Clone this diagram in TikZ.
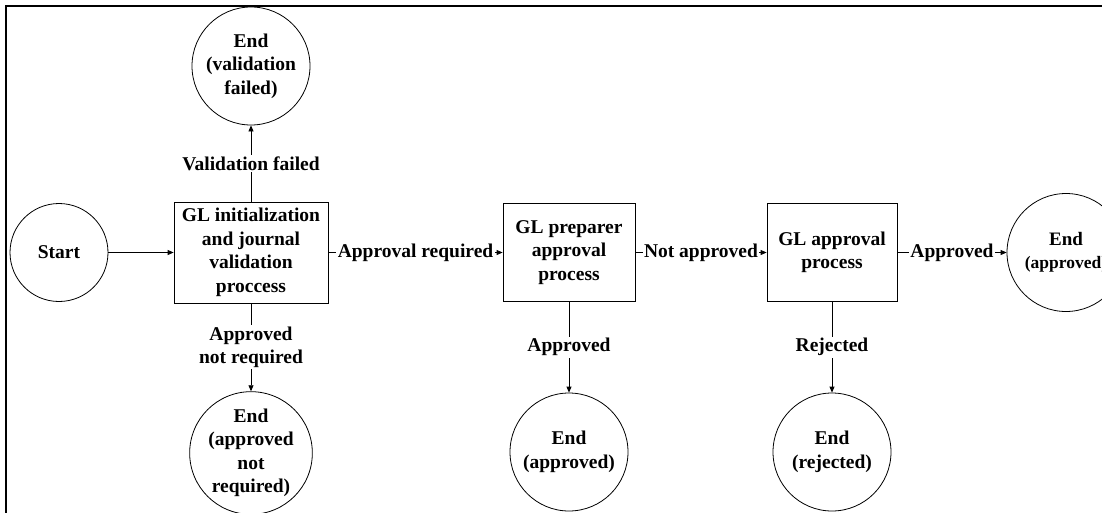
\documentclass[tikz,border=0pt]{standalone}
\usepackage{fontspec}
\setmainfont{Liberation Serif}
\usetikzlibrary{arrows.meta}
\begin{document}
\begin{tikzpicture}[x=1pt,y=-1pt,
  every node/.style={font=\bfseries\fontsize{19.5}{23.5}\selectfont, align=center},
  endpt/.style={draw, circle, minimum size=118pt, inner sep=0pt, line width=0.8pt},
  procbox/.style={draw, rectangle, inner sep=0pt, line width=0.8pt},
  flow/.style={draw, line width=0.8pt, -{Triangle[length=6pt,width=5pt]}},
  lbl/.style={fill=white, inner sep=1.5pt}
]
\useasboundingbox (0,0) rectangle (1102,512);
\clip (0,0) rectangle (1102,512);

% frame (top and left edges)
\draw[line width=2.5pt] (6,530) -- (6,6) -- (1120,6);

% states and processes
\node[endpt, minimum size=98pt] (start) at (59,252.5) {Start};
\node[procbox, minimum width=154pt, minimum height=101pt] (init) at (251,252.5)
  {GL initialization\\and journal\\validation\\proccess};
\node[endpt] (endval) at (251,66) {End\\(validation\\failed)};
\node[endpt] (endnr) at (251,453) {End\\(approved\\not\\required)};
\node[procbox, minimum width=132pt, minimum height=98pt] (prep) at (569,252.5)
  {GL preparer\\approval\\process};
\node[endpt] (endprep) at (569,452) {End\\(approved)};
\node[procbox, minimum width=130pt, minimum height=98pt] (appr) at (832,252.5)
  {GL approval\\process};
\node[endpt] (endrej) at (832,452) {End\\(rejected)};
\node[endpt, font=\bfseries\fontsize{17.5}{23}\selectfont] (endok) at (1066,252.5)
  {{\fontsize{19}{23}\selectfont End}\\(approved)};

% transitions
\draw[flow] (start) -- (init);
\draw[flow] (init) -- node[lbl] {Validation failed} (endval);
\draw[flow] (init) -- node[lbl] {Approved\\not required} (endnr);
\draw[flow] (init) -- node[lbl] {Approval required} (prep);
\draw[flow] (prep) -- node[lbl] {Approved} (endprep);
\draw[flow] (prep) -- node[lbl] {Not approved} (appr);
\draw[flow] (appr) -- node[lbl] {Rejected} (endrej);
\draw[flow] (appr) -- node[lbl] {Approved} (endok);
\end{tikzpicture}
\end{document}
